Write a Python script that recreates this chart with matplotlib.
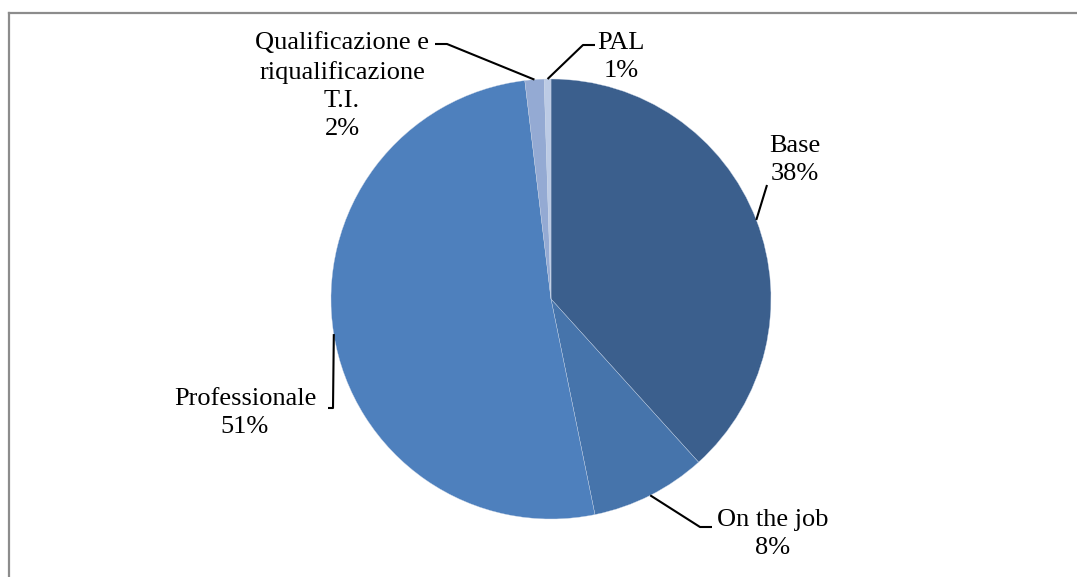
import numpy as np
import matplotlib
matplotlib.use("Agg")
import matplotlib.pyplot as plt
from matplotlib.lines import Line2D

# dati (percentuali)
categorie = ["Base", "On the job", "Professionale", "Qualificazione e\nriqualificazione\nT.I.", "PAL"]
valori = [38.3, 8.5, 51.3, 1.4, 0.5]
etichette_pct = ["38%", "8%", "51%", "2%", "1%"]
colori = ["#3b5f8d", "#4674ab", "#4e80bd", "#94aad3", "#bccbe5"]

W, H = 1077, 577
fig = plt.figure(figsize=(W / 100, H / 100), dpi=100)
ax = fig.add_axes([0, 0, 1, 1])

def py(y):  # coordinate pixel dall'alto -> dal basso
    return H - y

cx, cy, r = 551, py(299), 220
wedges, _ = ax.pie(valori, startangle=90, counterclock=False, colors=colori,
                   center=(cx, cy), radius=r,
                   wedgeprops=dict(edgecolor="#c8d4e6", linewidth=0.25))
ax.set_xlim(0, W)
ax.set_ylim(0, H)
ax.set_aspect("equal")
ax.axis("off")

# posizione testo e gomito delle linee guida (pixel)
testo_xy = [(795, 160), (773, 534), (245, 413), (342, 86), (621, 57)]
gomiti = [[(767, 185)],
          [(700, 527), (712, 527)],
          [(333, 408), (328, 408)],
          [(447, 44), (435, 44)],
          [(583, 45), (595, 45)]]

for w, cat, pct, (tx, ty), gom in zip(wedges, categorie, etichette_pct, testo_xy, gomiti):
    ang = np.deg2rad((w.theta1 + w.theta2) / 2)
    x0 = cx + r * np.cos(ang)
    y0 = cy + r * np.sin(ang)
    xs = [x0] + [g[0] for g in gom]
    ys = [y0] + [py(g[1]) for g in gom]
    ax.plot(xs, ys, color="black", linewidth=1.5, solid_capstyle="butt")
    ax.text(tx, py(ty), cat + "\n" + pct, ha="center", va="center",
            fontsize=19, family="Liberation Serif", linespacing=1.36, color="black")

# cornice del grafico (solo lati superiore e sinistro visibili)
fig.add_artist(Line2D([8.5 / W, 1.0], [1 - 12.5 / H, 1 - 12.5 / H],
                      transform=fig.transFigure, color="#8c8c8c", linewidth=1.6))
fig.add_artist(Line2D([8.5 / W, 8.5 / W], [1 - 12.5 / H, 0],
                      transform=fig.transFigure, color="#8c8c8c", linewidth=1.6))

fig.savefig("out.png", dpi=100, facecolor="white")
